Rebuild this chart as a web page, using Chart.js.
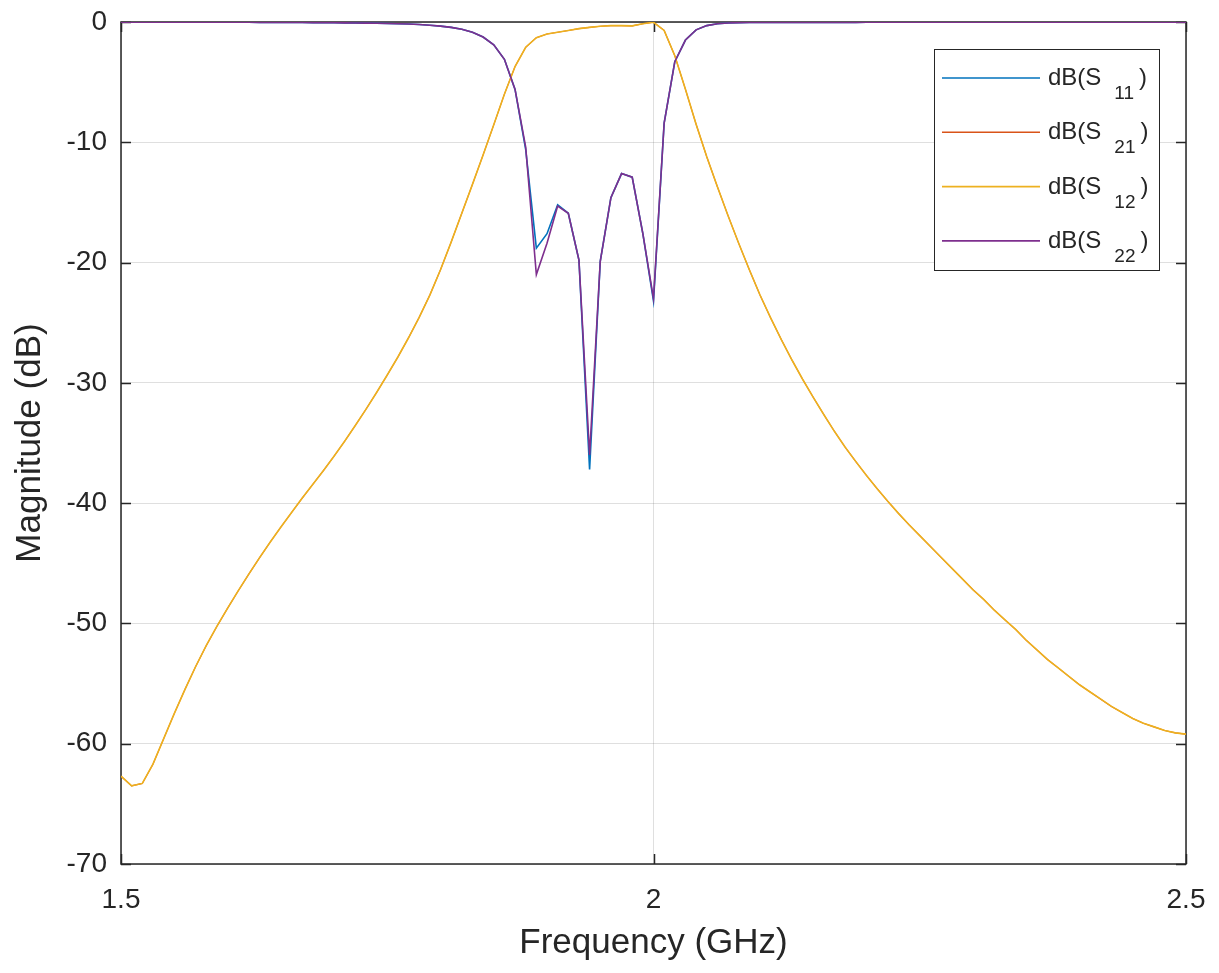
<!DOCTYPE html>
<html>
<head>
<meta charset="utf-8">
<script src="https://cdn.jsdelivr.net/npm/chart.js@4"></script>
<style>
  html, body { margin: 0; padding: 0; background: #fff; }
  canvas { display: block; }
</style>
</head>
<body>
<canvas id="sp" width="1219" height="973"></canvas>
<script>
// frequency points (GHz)
const freq = [
  1.50, 1.51, 1.52, 1.53, 1.54, 1.55, 1.56, 1.57, 1.58, 1.59,
  1.60, 1.61, 1.62, 1.63, 1.64, 1.65, 1.66, 1.67, 1.68, 1.69,
  1.70, 1.71, 1.72, 1.73, 1.74, 1.75, 1.76, 1.77, 1.78, 1.79,
  1.80, 1.81, 1.82, 1.83, 1.84, 1.85, 1.86, 1.87, 1.88, 1.89,
  1.90, 1.91, 1.92, 1.93, 1.94, 1.95, 1.96, 1.97, 1.98, 1.99,
  2.00, 2.01, 2.02, 2.03, 2.04, 2.05, 2.06, 2.07, 2.08, 2.09,
  2.10, 2.11, 2.12, 2.13, 2.14, 2.15, 2.16, 2.17, 2.18, 2.19,
  2.20, 2.21, 2.22, 2.23, 2.24, 2.25, 2.26, 2.27, 2.28, 2.29,
  2.30, 2.31, 2.32, 2.33, 2.34, 2.35, 2.36, 2.37, 2.38, 2.39,
  2.40, 2.41, 2.42, 2.43, 2.44, 2.45, 2.46, 2.47, 2.48, 2.49,
  2.50
];

// dB(S11)
const s11 = [
  -0.01, -0.01, -0.01, -0.01, -0.01, -0.01, -0.01, -0.01, -0.01, -0.01,
  -0.02, -0.02, -0.02, -0.03, -0.03, -0.03, -0.04, -0.04, -0.05, -0.05,
  -0.06, -0.07, -0.08, -0.09, -0.10, -0.12, -0.14, -0.17, -0.21, -0.27,
  -0.34, -0.45, -0.60, -0.85, -1.25, -1.9, -3.1, -5.6, -10.6, -18.8,
  -17.6, -15.2, -15.9, -19.8, -37.2, -19.9, -14.6, -12.6, -12.9, -17.6,
  -23.2, -8.4, -3.3, -1.5, -0.65, -0.30, -0.15, -0.08, -0.05, -0.04,
  -0.03, -0.03, -0.03, -0.03, -0.03, -0.03, -0.03, -0.03, -0.03, -0.03,
  -0.02, -0.02, -0.02, -0.02, -0.02, -0.02, -0.02, -0.02, -0.02, -0.02,
  -0.02, -0.02, -0.02, -0.02, -0.02, -0.02, -0.02, -0.02, -0.02, -0.02,
  -0.01, -0.01, -0.01, -0.01, -0.01, -0.01, -0.01, -0.01, -0.01, -0.01,
  -0.01
];

// dB(S12)
const s12 = [
  -62.7, -63.5, -63.3, -61.7, -59.6, -57.5, -55.5, -53.6, -51.85, -50.25,
  -48.75, -47.3, -45.9, -44.55, -43.25, -42.0, -40.8, -39.6, -38.45, -37.3,
  -36.1, -34.85, -33.55, -32.2, -30.8, -29.35, -27.85, -26.25, -24.55, -22.7,
  -20.6, -18.3, -15.9, -13.5, -11.05, -8.55, -6.0, -3.7, -2.1, -1.3,
  -1.0, -0.85, -0.70, -0.55, -0.45, -0.35, -0.30, -0.30, -0.32, -0.15,
  -0.02, -0.7, -2.8, -5.6, -8.5, -11.2, -13.7, -16.1, -18.4, -20.6,
  -22.7, -24.6, -26.4, -28.1, -29.7, -31.2, -32.65, -34.05, -35.35, -36.55,
  -37.7, -38.8, -39.85, -40.85, -41.8, -42.7, -43.6, -44.5, -45.4, -46.3,
  -47.2, -48.0, -48.9, -49.7, -50.5, -51.4, -52.2, -53.0, -53.7, -54.4,
  -55.1, -55.7, -56.3, -56.9, -57.4, -57.9, -58.3, -58.6, -58.9, -59.1,
  -59.2
];

// dB(S21) lies exactly under S12 in the picture (reciprocal network)
const s21 = s12.slice();

// dB(S22)
const s22 = [
  -0.01, -0.01, -0.01, -0.01, -0.01, -0.01, -0.01, -0.01, -0.01, -0.01,
  -0.02, -0.02, -0.02, -0.03, -0.03, -0.03, -0.04, -0.04, -0.05, -0.05,
  -0.06, -0.07, -0.08, -0.09, -0.10, -0.12, -0.14, -0.17, -0.21, -0.27,
  -0.34, -0.45, -0.60, -0.85, -1.25, -1.9, -3.1, -5.6, -10.4, -21.0,
  -18.4, -15.3, -15.9, -19.8, -36.0, -19.9, -14.6, -12.6, -12.9, -17.6,
  -23.0, -8.4, -3.3, -1.5, -0.65, -0.30, -0.15, -0.08, -0.05, -0.04,
  -0.03, -0.03, -0.03, -0.03, -0.03, -0.03, -0.03, -0.03, -0.03, -0.03,
  -0.02, -0.02, -0.02, -0.02, -0.02, -0.02, -0.02, -0.02, -0.02, -0.02,
  -0.02, -0.02, -0.02, -0.02, -0.02, -0.02, -0.02, -0.02, -0.02, -0.02,
  -0.01, -0.01, -0.01, -0.01, -0.01, -0.01, -0.01, -0.01, -0.01, -0.01,
  -0.01
];

const seriesNames = ["11", "21", "12", "22"];
const seriesColors = ["#0072BD", "#D95319", "#EDB120", "#7E2F8E"];
const xTicks = [1.5, 2, 2.5];
const yTicks = [0, -10, -20, -30, -40, -50, -60, -70];

const FONT = "'Liberation Sans', Arial, Helvetica, sans-serif";
const AXIS = "#262626";

const pts = (ys) => freq.map((f, i) => ({ x: f, y: ys[i] }));

// box around the axes plus inward tick marks (MATLAB style)
const frame = {
  id: "frame",
  beforeDatasetsDraw(chart) {
    const { ctx, chartArea: a, scales } = chart;
    ctx.save();
    ctx.strokeStyle = AXIS;
    ctx.lineWidth = 1.5;
    ctx.strokeRect(a.left, a.top, a.right - a.left, a.bottom - a.top);
    ctx.beginPath();
    for (const v of yTicks) {
      const y = Math.round(scales.y.getPixelForValue(v)) + 0.5;
      ctx.moveTo(a.left, y); ctx.lineTo(a.left + 10, y);
      ctx.moveTo(a.right, y); ctx.lineTo(a.right - 10, y);
    }
    for (const v of xTicks) {
      const x = Math.round(scales.x.getPixelForValue(v)) + 0.5;
      ctx.moveTo(x, a.bottom); ctx.lineTo(x, a.bottom - 10);
      ctx.moveTo(x, a.top); ctx.lineTo(x, a.top + 10);
    }
    ctx.stroke();
    ctx.restore();
  }
};

// legend with subscripts
const subLegend = {
  id: "subLegend",
  afterDatasetsDraw(chart) {
    const ctx = chart.ctx;
    const bx = 934, by = 49, bw = 225, bh = 221;
    ctx.save();
    ctx.fillStyle = "#fff";
    ctx.fillRect(bx, by, bw, bh);
    ctx.strokeStyle = AXIS;
    ctx.lineWidth = 1;
    ctx.strokeRect(bx + 0.5, by + 0.5, bw, bh);
    seriesNames.forEach((n, i) => {
      const ry = 78 + i * 54.3;
      ctx.strokeStyle = seriesColors[i];
      ctx.lineWidth = 1.6;
      ctx.beginPath();
      ctx.moveTo(942, ry); ctx.lineTo(1040, ry);
      ctx.stroke();
      ctx.fillStyle = AXIS;
      ctx.textBaseline = "alphabetic";
      ctx.textAlign = "left";
      ctx.font = "24px " + FONT;
      const head = "dB(S";
      ctx.fillText(head, 1048, ry + 7);
      let x = 1048 + ctx.measureText(head).width + 13;
      ctx.font = "19px " + FONT;
      ctx.fillText(n, x, ry + 21);
      x += ctx.measureText(n).width + 5;
      ctx.font = "24px " + FONT;
      ctx.fillText(")", x, ry + 7);
    });
    ctx.restore();
  }
};

new Chart(document.getElementById("sp"), {
  type: "line",
  data: {
    datasets: [
      { label: "dB(S11)", data: pts(s11), borderColor: seriesColors[0], order: 4 },
      { label: "dB(S21)", data: pts(s21), borderColor: seriesColors[1], borderWidth: 1.1, order: 3 },
      { label: "dB(S12)", data: pts(s12), borderColor: seriesColors[2], order: 2 },
      { label: "dB(S22)", data: pts(s22), borderColor: seriesColors[3], order: 1 },
    ],
  },
  options: {
    responsive: false,
    devicePixelRatio: 1,
    animation: false,
    layout: { padding: { top: 22, right: 33, left: 0, bottom: 0 } },
    elements: {
      point: { radius: 0 },
      line: { borderWidth: 1.6, tension: 0, fill: false },
    },
    plugins: { legend: { display: false }, tooltip: { enabled: false } },
    scales: {
      x: {
        type: "linear",
        min: 1.5,
        max: 2.5,
        afterBuildTicks: (s) => { s.ticks = xTicks.map(v => ({ value: v })); },
        afterFit: (s) => { s.height = 109; s.paddingLeft = 0; s.paddingRight = 0; },
        ticks: {
          color: AXIS, padding: 19, font: { family: FONT, size: 28 },
          callback: (v) => String(v),
        },
        grid: { color: "rgba(38,38,38,0.15)", lineWidth: 1, drawTicks: false },
        border: { display: false },
        title: {
          display: true,
          text: "Frequency (GHz)",
          color: AXIS,
          font: { family: FONT, size: 35 },
          padding: { top: 0, bottom: 9 },
        },
      },
      y: {
        min: -70,
        max: 0,
        afterBuildTicks: (s) => { s.ticks = yTicks.slice().reverse().map(v => ({ value: v })); },
        afterFit: (s) => { s.width = 121; s.paddingTop = 0; s.paddingBottom = 0; },
        ticks: { color: AXIS, padding: 14, font: { family: FONT, size: 28 } },
        grid: { color: "rgba(38,38,38,0.15)", lineWidth: 1, drawTicks: false },
        border: { display: false },
        title: {
          display: true,
          text: "Magnitude (dB)",
          color: AXIS,
          font: { family: FONT, size: 35 },
          padding: { top: 9, bottom: 0 },
        },
      },
    },
  },
  plugins: [frame, subLegend],
});
</script>
</body>
</html>
